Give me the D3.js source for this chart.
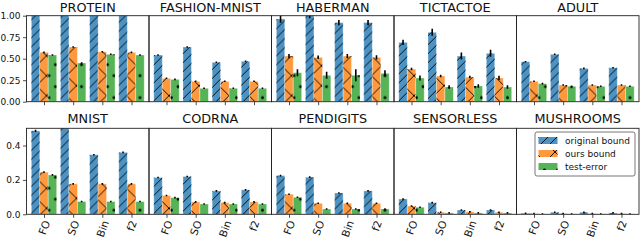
<!DOCTYPE html>
<html>
<head>
<meta charset="utf-8">
<script src="https://cdn.jsdelivr.net/npm/d3@7"></script>
<style>
  body { margin: 0; background: #fff; }
  svg { font-family: "DejaVu Sans", sans-serif; }
</style>
</head>
<body>
<div id="chart"></div>
<script>
// data
const datasets = ["PROTEIN", "FASHION-MNIST", "HABERMAN", "TICTACTOE", "ADULT",
                  "MNIST", "CODRNA", "PENDIGITS", "SENSORLESS", "MUSHROOMS"];
const methods = ["FO", "SO", "Bin", "f2"];
const seriesNames = ["original bound", "ours bound", "test-error"];

const originalBound = [
  [1.2, 1.2, 1.2, 1.2],
  [0.543, 0.636, 0.458, 0.47],
  [0.962, 1.01, 0.919, 0.919],
  [0.69, 0.807, 0.531, 0.563],
  [0.465, 0.551, 0.388, 0.395],
  [0.485, 0.52, 0.346, 0.36],
  [0.214, 0.22, 0.136, 0.142],
  [0.225, 0.216, 0.124, 0.136],
  [0.089, 0.068, 0.025, 0.025],
  [0.006, 0.012, 0.012, 0.008]
];
const oursBound = [
  [0.574, 0.636, 0.58, 0.574],
  [0.272, 0.237, 0.237, 0.237],
  [0.531, 0.516, 0.531, 0.516],
  [0.38, 0.299, 0.287, 0.276],
  [0.237, 0.194, 0.194, 0.194],
  [0.245, 0.177, 0.177, 0.177],
  [0.109, 0.072, 0.068, 0.072],
  [0.117, 0.064, 0.064, 0.064],
  [0.048, 0.012, 0.015, 0.012],
  [0.004, 0.004, 0.004, 0.004]
];
const testError = [
  [0.543, 0.45, 0.551, 0.543],
  [0.26, 0.156, 0.156, 0.156],
  [0.337, 0.307, 0.307, 0.33],
  [0.276, 0.171, 0.183, 0.171],
  [0.21, 0.179, 0.179, 0.179],
  [0.229, 0.074, 0.074, 0.074],
  [0.097, 0.06, 0.06, 0.06],
  [0.099, 0.031, 0.031, 0.031],
  [0.041, 0.008, 0.008, 0.008],
  [0.002, 0.002, 0.002, 0.002]
];
// half-length of error bars
const originalErr = [
  [0.01, 0.01, 0.01, 0.01],
  [0.006, 0.006, 0.006, 0.006],
  [0.045, 0.04, 0.03, 0.03],
  [0.03, 0.04, 0.04, 0.04],
  [0.006, 0.006, 0.006, 0.006],
  [0.006, 0.006, 0.003, 0.003],
  [0.003, 0.003, 0.003, 0.003],
  [0.004, 0.005, 0.004, 0.004],
  [0.003, 0.003, 0.002, 0.002],
  [0.001, 0.001, 0.003, 0.001]
];
const oursErr = [
  [0.006, 0.006, 0.006, 0.006],
  [0.006, 0.006, 0.006, 0.006],
  [0.025, 0.02, 0.025, 0.025],
  [0.015, 0.015, 0.015, 0.025],
  [0.006, 0.006, 0.006, 0.006],
  [0.004, 0.002, 0.002, 0.002],
  [0.002, 0.002, 0.002, 0.002],
  [0.002, 0.002, 0.002, 0.002],
  [0.003, 0.001, 0.001, 0.001],
  [0.0005, 0.0005, 0.0005, 0.0005]
];
const testErr = [
  [0.006, 0.006, 0.006, 0.006],
  [0.006, 0.006, 0.006, 0.006],
  [0.04, 0.04, 0.07, 0.035],
  [0.03, 0.02, 0.02, 0.02],
  [0.006, 0.006, 0.006, 0.006],
  [0.003, 0.002, 0.002, 0.002],
  [0.002, 0.002, 0.002, 0.002],
  [0.002, 0.001, 0.001, 0.001],
  [0.003, 0.001, 0.001, 0.001],
  [0.0005, 0.0005, 0.0005, 0.0005]
];
const rowTicks = [[0, 0.25, 0.5, 0.75, 1.0], [0, 0.2, 0.4]];
const rowMax = [1.0, 0.5];
const rowFormat = [".2f", ".1f"];

const width = 640, height = 240;
const left = 26.5, right = 639;
const rowTop = [15.7, 128.3];
const titleY = [12.2, 123];
const axH = 86;
const axW = (right - left) / 5;
const barW = 0.29;

const colors = ["rgba(31,119,180,0.8)", "rgba(255,127,14,0.8)", "rgba(44,160,44,0.8)"];
const values = [originalBound, oursBound, testError];
const errs = [originalErr, oursErr, testErr];

const svg = d3.select("#chart").append("svg")
  .attr("width", width).attr("height", height);

const defs = svg.append("defs");
// hatch '/'
const p0 = defs.append("pattern").attr("id", "hatch0")
  .attr("patternUnits", "userSpaceOnUse").attr("width", 9).attr("height", 9);
p0.append("path").attr("d", "M-1,10 L10,-1 M-1,1 L1,-1 M8,10 L10,8")
  .attr("stroke", "#000").attr("stroke-width", 0.9);
// hatch 'x'
const p1 = defs.append("pattern").attr("id", "hatch1")
  .attr("patternUnits", "userSpaceOnUse").attr("width", 20).attr("height", 20);
p1.append("path").attr("d", "M0,0 L20,20 M0,20 L20,0")
  .attr("stroke", "#000").attr("stroke-width", 0.9);
// hatch '.'
const p2 = defs.append("pattern").attr("id", "hatch2")
  .attr("patternUnits", "userSpaceOnUse").attr("width", 13).attr("height", 22);
[[3, 5], [9.5, 16]].forEach(c => {
  p2.append("circle").attr("cx", c[0]).attr("cy", c[1]).attr("r", 1.4).attr("fill", "#000");
});

const x = d3.scaleLinear().domain([-0.6, 3.6]).range([0, axW]);

datasets.forEach((name, di) => {
  const row = di < 5 ? 0 : 1;
  const col = di % 5;
  const y = d3.scaleLinear().domain([0, rowMax[row]]).range([axH, 0]);
  const g = svg.append("g")
    .attr("transform", `translate(${left + col * axW},${rowTop[row]})`);

  const clipId = "clip" + di;
  defs.append("clipPath").attr("id", clipId)
    .append("rect").attr("x", 0).attr("y", 0).attr("width", axW).attr("height", axH);

  const plot = g.append("g").attr("clip-path", `url(#${clipId})`);

  values.forEach((vals, si) => {
    const off = (si - 1) * barW;
    const data = methods.map((m, mi) => ({ mi, v: vals[di][mi], e: errs[si][di][mi] }));
    plot.selectAll(null).data(data).enter().append("rect")
      .attr("x", d => x(d.mi + off - barW / 2))
      .attr("y", d => y(d.v))
      .attr("width", x(barW) - x(0))
      .attr("height", d => axH - y(d.v))
      .attr("fill", colors[si])
      .attr("stroke", "rgba(255,255,255,0.45)")
      .attr("stroke-width", 0.8);
    plot.selectAll(null).data(data).enter().append("rect")
      .attr("x", d => x(d.mi + off - barW / 2))
      .attr("y", d => y(d.v))
      .attr("width", x(barW) - x(0))
      .attr("height", d => axH - y(d.v))
      .attr("fill", `url(#hatch${si})`);
    // error bars
    plot.selectAll(null).data(data).enter().append("line")
      .attr("x1", d => x(d.mi + off)).attr("x2", d => x(d.mi + off))
      .attr("y1", d => Math.min(y(d.v + d.e), y(d.v) - 0.8))
      .attr("y2", d => Math.max(y(d.v - d.e), y(d.v) + 0.8))
      .attr("stroke", "#000").attr("stroke-width", 1.6);
  });

  // frame
  g.append("rect").attr("width", axW).attr("height", axH)
    .attr("fill", "none").attr("stroke", "#222").attr("stroke-width", 0.9);

  // x ticks
  const xa = g.append("g").attr("transform", `translate(0,${axH})`)
    .call(d3.axisBottom(x).tickValues([0, 1, 2, 3]).tickSize(3.5).tickFormat(""));
  xa.select(".domain").remove();
  xa.selectAll("line").attr("stroke", "#222").attr("stroke-width", 0.8);

  if (row === 1) {
    methods.forEach((m, mi) => {
      const t = g.append("text").text(m)
        .attr("font-size", 10.5).attr("fill", "#111")
        .attr("text-anchor", "middle").attr("dominant-baseline", "central");
      const w = t.node().getComputedTextLength();
      const h = 8.5;
      const a = 70 * Math.PI / 180;
      const H = w * Math.sin(a) + h * Math.cos(a);
      t.attr("transform", `translate(${x(mi)},${axH + 5 + H / 2}) rotate(-70)`);
    });
  }

  if (col === 0) {
    const ya = g.append("g")
      .call(d3.axisLeft(y).tickValues(rowTicks[row]).tickSize(3.5).tickPadding(2.5)
        .tickFormat(d3.format(rowFormat[row])));
    ya.select(".domain").remove();
    ya.selectAll("line").attr("stroke", "#222").attr("stroke-width", 0.8);
    ya.selectAll("text").attr("font-size", 9).attr("fill", "#111")
      .attr("font-family", "DejaVu Sans");
  }

  // title
  svg.append("text")
    .attr("x", left + col * axW + axW / 2)
    .attr("y", titleY[row])
    .attr("text-anchor", "middle")
    .attr("font-size", 12.8).attr("fill", "#111")
    .text(name);
});

// legend in the MUSHROOMS panel
const lg = svg.append("g").attr("transform", "translate(535,132)");
lg.append("rect").attr("width", 100).attr("height", 44).attr("rx", 2)
  .attr("fill", "rgba(255,255,255,0.8)").attr("stroke", "#555").attr("stroke-width", 0.8);
seriesNames.forEach((s, si) => {
  const yy = 5 + si * 13;
  lg.append("rect").attr("x", 3.5).attr("y", yy).attr("width", 19).attr("height", 7)
    .attr("fill", colors[si]);
  lg.append("rect").attr("x", 3.5).attr("y", yy).attr("width", 19).attr("height", 7)
    .attr("fill", `url(#hatch${si})`);
  lg.append("text").attr("x", 30).attr("y", yy + 7)
    .attr("font-size", 9).attr("fill", "#111").text(s);
});
</script>
</body>
</html>
